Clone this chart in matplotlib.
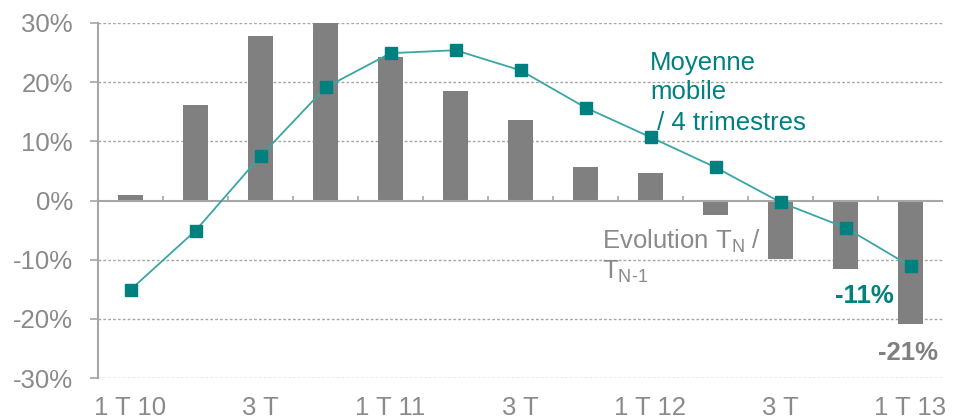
import matplotlib
matplotlib.use("Agg")
import matplotlib.pyplot as plt
import numpy as np

plt.rcParams['font.family'] = ['Liberation Sans', 'DejaVu Sans']
plt.rcParams['mathtext.fontset'] = 'custom'
plt.rcParams['mathtext.rm'] = 'Liberation Sans'

# quarterly change vs previous year, and 4-quarter moving average (%)
quarters = ["1 T 10", "2 T 10", "3 T 10", "4 T 10",
            "1 T 11", "2 T 11", "3 T 11", "4 T 11",
            "1 T 12", "2 T 12", "3 T 12", "4 T 12", "1 T 13"]
tick_labels = ["1 T 10", "", "3 T", "", "1 T 11", "", "3 T", "",
               "1 T 12", "", "3 T", "", "1 T 13"]
evolution = [1.0, 16.1, 27.8, 30.0, 24.3, 18.5, 13.6, 5.7, 4.7, -2.4, -9.9, -11.5, -20.8]
moving_avg = [-15.1, -5.1, 7.5, 19.1, 24.9, 25.4, 22.0, 15.7, 10.7, 5.6, -0.3, -4.6, -11.1]
y_ticks = [-30, -20, -10, 0, 10, 20, 30]

GREY = "#808080"
TEXT_GREY = "#8a8a8a"
AXIS_GREY = "#a6a6a6"
TEAL = "#00807e"
TEAL_LINE = "#3aa6a4"
FS = 18.5

fig = plt.figure(figsize=(9.58, 4.2), dpi=100)
ax = fig.add_axes([98 / 958, 42 / 420, 845 / 958, 355 / 420])

x = np.arange(len(quarters))
ax.set_xlim(-0.5, len(quarters) - 0.5)
ax.set_ylim(-30, 30)

for y in y_ticks:
    if y != 0:
        ax.axhline(y, color=AXIS_GREY, lw=1.0, ls=(0, (2, 1.5)), zorder=0)

ax.bar(x, evolution, width=0.39, color=GREY, zorder=2)

# zero line with small category separators
ax.axhline(0, color=AXIS_GREY, lw=1.5, zorder=3)
ax.vlines(x[:-1] + 0.5, 0, 0.8, color=AXIS_GREY, lw=1.2, zorder=3)

ax.plot(x, moving_avg, color=TEAL_LINE, lw=1.3, zorder=4)
ax.plot(x, moving_avg, ls="none", marker="s", ms=8, color=TEAL, zorder=5)

for side in ["top", "right", "bottom"]:
    ax.spines[side].set_visible(False)
ax.spines["left"].set_color(AXIS_GREY)
ax.spines["left"].set_linewidth(1.5)

ax.set_yticks(y_ticks)
ax.set_yticklabels([f"{v}%" for v in y_ticks])
ax.tick_params(axis="y", length=6, width=1.2, color=AXIS_GREY, pad=12,
               labelsize=FS, labelcolor=TEXT_GREY)
ax.set_xticks(x)
ax.set_xticklabels(tick_labels)
ax.tick_params(axis="x", length=0, pad=13, labelsize=FS, labelcolor=TEXT_GREY)

# series labels
for label, yb in [("Moyenne", 22.1), ("mobile", 17.1), (" / 4 trimestres", 12.0)]:
    ax.text(7.99, yb, label, color=TEAL, fontsize=FS, va="baseline", ha="left")
ax.text(7.25, -8.1, r"Evolution T$_\text{N}$ /", color=TEXT_GREY, fontsize=FS,
        va="baseline", ha="left")
ax.text(7.25, -13.2, r"T$_\text{N-1}$", color=TEXT_GREY, fontsize=FS,
        va="baseline", ha="left")

# end-of-series values
ax.text(x[-1] - 1.16, moving_avg[-1] - 6.3, f"{round(moving_avg[-1])}%", color=TEAL,
        fontsize=FS, fontweight="bold", ha="left", va="baseline")
ax.text(x[-1] - 0.5, evolution[-1] - 6.2, f"{round(evolution[-1])}%", color=GREY,
        fontsize=FS, fontweight="bold", ha="left", va="baseline")

fig.savefig("out.png", dpi=100)
